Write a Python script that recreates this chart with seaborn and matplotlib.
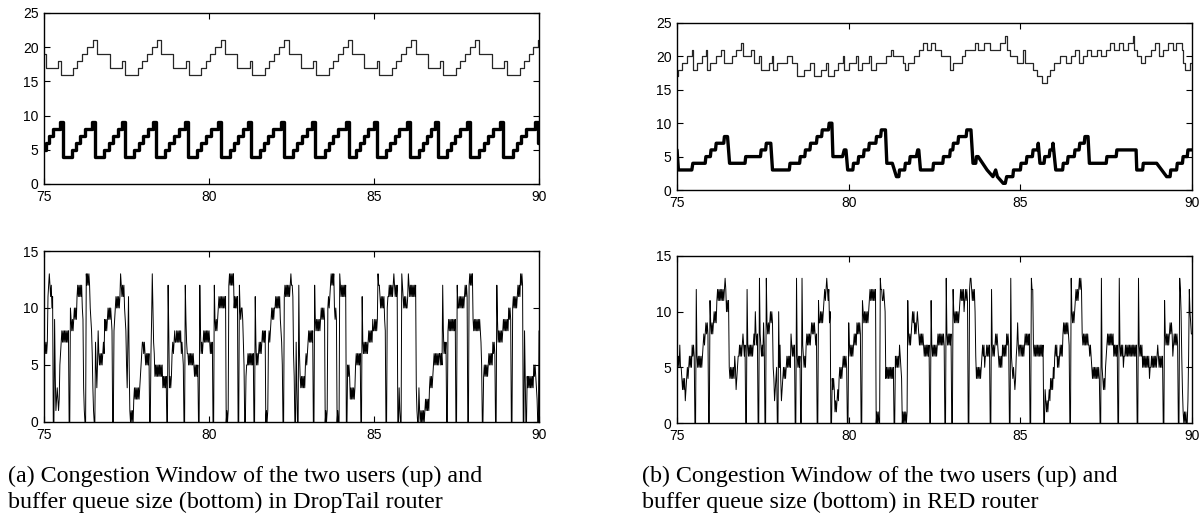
import matplotlib
matplotlib.use("Agg")
import matplotlib.pyplot as plt
import numpy as np
import seaborn as sns

# ---------------- data ----------------
# (a) DropTail: congestion window of user 1 (thin) -- breakpoints, value holds until next time
dt_cw1_t = [75.00, 75.06, 75.42, 75.50, 75.88, 76.01, 76.15, 76.31, 76.49,
            76.62, 76.99, 77.37, 77.45, 77.84, 77.97, 78.11, 78.26, 78.42,
            78.55, 78.92, 79.30, 79.38, 79.77, 79.90, 80.04, 80.19, 80.35,
            80.48, 80.85, 81.23, 81.31, 81.70, 81.83, 81.97, 82.12, 82.28,
            82.41, 82.78, 83.16, 83.24, 83.63, 83.76, 83.90, 84.05, 84.20,
            84.33, 84.70, 85.08, 85.16, 85.55, 85.68, 85.82, 85.97, 86.13,
            86.26, 86.63, 87.01, 87.09, 87.48, 87.61, 87.75, 87.90, 88.06,
            88.19, 88.56, 88.94, 89.02, 89.41, 89.54, 89.68, 89.83, 89.97, 90.00]
dt_cw1_v = [19, 17, 18, 16, 17, 18, 19, 20, 21,
            19, 17, 18, 16, 17, 18, 19, 20, 21,
            19, 17, 18, 16, 17, 18, 19, 20, 21,
            19, 17, 18, 16, 17, 18, 19, 20, 21,
            19, 17, 18, 16, 17, 18, 19, 20, 21,
            19, 17, 18, 16, 17, 18, 19, 20, 21,
            19, 17, 18, 16, 17, 18, 19, 20, 21,
            19, 17, 18, 16, 17, 18, 19, 20, 21, 21]

# (a) DropTail: congestion window of user 2 (thick)
dt_cw2_t = [75.00, 75.06, 75.16, 75.28, 75.47,
            75.56, 75.84, 75.97, 76.10, 76.25, 76.46,
            76.55, 76.83, 76.96, 77.09, 77.24, 77.37,
            77.46, 77.74, 77.87, 78.00, 78.15, 78.30,
            78.39, 78.67, 78.80, 78.93, 79.08, 79.27,
            79.36, 79.64, 79.77, 79.90, 80.05, 80.26,
            80.35, 80.63, 80.76, 80.89, 81.04, 81.17,
            81.26, 81.54, 81.67, 81.80, 81.95, 82.18,
            82.27, 82.55, 82.68, 82.81, 82.96, 83.13,
            83.22, 83.50, 83.63, 83.76, 83.91, 84.14,
            84.23, 84.45, 84.57, 84.69, 84.83, 84.99,
            85.08, 85.36, 85.49, 85.62, 85.77, 86.01,
            86.10, 86.35, 86.47, 86.59, 86.72, 86.86,
            86.95, 87.20, 87.33, 87.46, 87.61, 87.82,
            87.91, 88.19, 88.32, 88.45, 88.60, 88.83,
            88.92, 89.20, 89.33, 89.46, 89.61, 89.88,
            89.97, 90.00]
dt_cw2_v = [5, 6, 7, 8, 9] + [4, 5, 6, 7, 8, 9] * 15 + [6, 6]

# (a) DropTail: buffer queue size, 50 samples per second from 75 s to 90 s
dt_queue = [
    6, 7, 6, 7, 6, 7, 11, 12, 13, 12, 11, 12, 10, 11, 0, 0, 9, 4, 1, 2, 3, 2, 1, 2, 5,
    6, 7, 8, 7, 8, 7, 8, 7, 8, 7, 8, 7, 8, 0, 0, 10, 9, 8, 9, 8, 9, 10, 9, 10, 9,          # 75
    11, 12, 11, 12, 11, 12, 11, 12, 10, 9, 3, 1, 0, 0, 13, 12, 13, 12, 13, 12, 10, 9, 8, 6, 3,
    1, 0, 0, 7, 5, 3, 5, 8, 6, 5, 6, 5, 6, 5, 6, 7, 6, 9, 8, 9, 8, 9, 10, 9, 10,           # 76
    9, 10, 9, 8, 0, 0, 8, 9, 10, 11, 10, 11, 10, 11, 10, 11, 13, 12, 11, 12, 11, 12, 10, 9, 8,
    5, 3, 7, 11, 5, 1, 0, 1, 0, 1, 0, 2, 3, 2, 3, 2, 3, 2, 3, 2, 3, 4, 5, 6, 7,            # 77
    7, 6, 7, 6, 5, 6, 5, 6, 5, 6, 0, 0, 6, 9, 13, 10, 7, 6, 4, 5, 4, 5, 4, 5, 4,
    5, 4, 5, 4, 5, 3, 4, 3, 4, 3, 4, 0, 0, 12, 8, 3, 4, 3, 4, 6, 7, 6, 7, 8, 7,            # 78
    7, 8, 7, 8, 7, 8, 7, 8, 6, 7, 6, 5, 0, 0, 12, 9, 7, 6, 6, 5, 6, 5, 6, 5, 6,
    5, 6, 5, 4, 5, 4, 5, 4, 5, 0, 0, 12, 8, 6, 7, 6, 7, 8, 7, 8, 7, 8, 7, 8, 7,            # 79
    8, 7, 6, 7, 6, 7, 0, 0, 12, 9, 8, 9, 8, 9, 10, 11, 10, 11, 10, 11, 10, 11, 10, 11, 10,
    11, 0, 1, 0, 1, 12, 13, 12, 13, 12, 13, 12, 13, 10, 11, 10, 11, 10, 11, 0, 0, 12, 10, 9, 10,  # 80
    10, 9, 7, 5, 0, 0, 4, 5, 5, 6, 5, 6, 5, 6, 5, 6, 5, 6, 0, 0, 11, 7, 5, 6, 5,
    6, 7, 6, 7, 6, 7, 8, 7, 8, 7, 8, 0, 1, 0, 1, 7, 8, 7, 8, 9, 10, 9, 10, 9, 10,          # 81
    10, 11, 10, 11, 10, 11, 10, 11, 9, 8, 7, 5, 0, 0, 11, 12, 11, 12, 11, 12, 11, 12, 11, 12, 13,
    12, 12, 11, 6, 4, 0, 0, 7, 3, 0, 0, 12, 6, 4, 3, 4, 3, 4, 3, 4, 3, 5, 6, 5, 6,         # 82
    7, 8, 7, 8, 7, 8, 7, 8, 0, 0, 12, 9, 8, 9, 8, 9, 8, 9, 8, 9, 10, 9, 10, 9, 10,
    9, 0, 1, 0, 1, 10, 11, 10, 11, 12, 13, 12, 13, 12, 13, 10, 9, 10, 9, 0, 1, 0, 0, 13, 12,  # 83
    11, 12, 11, 12, 11, 12, 11, 12, 0, 0, 5, 4, 5, 4, 2, 3, 2, 3, 2, 3, 2, 3, 5, 6, 5,
    6, 5, 6, 5, 6, 0, 0, 11, 7, 6, 7, 6, 7, 6, 7, 6, 7, 8, 7, 8, 7, 8, 7, 9, 8,            # 84
    8, 9, 8, 9, 8, 9, 13, 12, 12, 11, 10, 11, 10, 11, 10, 11, 9, 8, 0, 0, 10, 11, 11, 12, 11,
    12, 11, 12, 11, 12, 13, 12, 11, 12, 11, 12, 0, 0, 3, 1, 0, 0, 13, 12, 11, 10, 11, 10, 11, 10,  # 85
    10, 11, 13, 12, 11, 12, 11, 12, 11, 12, 11, 12, 11, 12, 3, 1, 0, 0, 3, 1, 0, 1, 0, 1, 0,
    1, 0, 1, 2, 1, 2, 1, 2, 1, 3, 4, 3, 4, 3, 4, 5, 6, 5, 6, 5, 6, 5, 6, 5, 6,             # 86
    6, 5, 6, 5, 12, 8, 6, 7, 6, 7, 0, 0, 8, 9, 8, 9, 8, 9, 8, 9, 8, 9, 8, 9, 0,
    0, 12, 10, 10, 11, 10, 11, 10, 11, 10, 11, 10, 11, 12, 11, 12, 11, 0, 0, 12, 13, 12, 13, 12, 13,  # 87
    9, 8, 9, 8, 9, 8, 9, 8, 9, 8, 9, 8, 7, 5, 0, 0, 4, 5, 4, 5, 4, 5, 4, 5, 6,
    5, 6, 5, 6, 5, 7, 6, 7, 6, 0, 0, 12, 9, 7, 8, 7, 8, 7, 8, 7, 8, 9, 8, 9, 8,            # 88
    9, 8, 9, 8, 10, 9, 10, 9, 0, 0, 10, 11, 10, 11, 10, 11, 10, 11, 12, 11, 12, 11, 13, 12, 13,
    12, 0, 0, 8, 4, 0, 0, 4, 3, 4, 3, 4, 3, 4, 3, 4, 3, 5, 4, 5, 4, 3, 2, 0, 0,            # 89
    8]

# (b) RED: congestion window of user 1 (thin) -- breakpoints
red_cw1_t = [75.00, 75.02, 75.14, 75.30, 75.43, 75.47, 75.57, 75.72, 75.83, 75.87,
             75.97, 76.12, 76.29, 76.37, 76.59, 76.72, 76.87, 76.91, 77.15, 77.24,
             77.38, 77.44, 77.67, 77.76, 77.80, 77.92, 78.20, 78.34, 78.48, 78.71,
             78.87, 78.99, 79.18, 79.33, 79.39, 79.56, 79.70, 79.82, 79.86, 80.02,
             80.21, 80.26, 80.40, 80.60, 80.65, 80.79, 81.08, 81.23, 81.28, 81.59,
             81.64, 81.73, 81.90, 82.05, 82.17, 82.27, 82.41, 82.52, 82.70, 82.95,
             83.03, 83.29, 83.38, 83.68, 83.78, 83.95, 84.11, 84.40, 84.55, 84.60,
             84.69, 84.89, 85.08, 85.13, 85.37, 85.47, 85.62, 85.77, 85.86, 85.99,
             86.14, 86.32, 86.46, 86.59, 86.70, 86.82, 86.95, 87.06, 87.24, 87.36,
             87.50, 87.62, 87.72, 87.87, 87.98, 88.13, 88.27, 88.30, 88.39, 88.52,
             88.64, 88.79, 88.91, 89.03, 89.16, 89.30, 89.44, 89.54, 89.70, 89.75,
             89.79, 89.95, 90.00]
red_cw1_v = [17, 18, 19, 20, 21, 18, 19, 20, 21, 18,
             19, 20, 21, 19, 20, 21, 22, 20, 21, 19,
             20, 18, 19, 20, 18, 19, 20, 19, 17, 18,
             19, 17, 18, 19, 17, 18, 19, 20, 18, 19,
             20, 18, 19, 20, 18, 19, 20, 21, 20, 19,
             18, 19, 20, 21, 22, 21, 22, 21, 20, 18,
             19, 20, 21, 22, 21, 22, 21, 22, 23, 21,
             20, 19, 21, 19, 18, 17, 16, 17, 18, 19,
             20, 19, 20, 21, 19, 20, 21, 20, 21, 20,
             21, 22, 21, 22, 21, 22, 23, 21, 20, 19,
             20, 21, 22, 20, 21, 22, 21, 22, 21, 19,
             18, 19, 19]

# (b) RED: congestion window of user 2 (thick) -- corner points
red_cw2_t = [75.00, 75.04, 75.43, 75.46, 75.82, 75.84, 75.97, 75.99, 76.12, 76.14,
             76.36, 76.38, 76.47, 76.53, 76.98, 77.00, 77.43, 77.45, 77.58, 77.60,
             77.73, 77.78, 78.27, 78.29, 78.57, 78.59, 78.72, 78.74, 78.87, 78.89,
             79.06, 79.08, 79.21, 79.23, 79.41, 79.43, 79.51, 79.54, 79.82, 79.87,
             79.92, 79.97, 80.12, 80.14, 80.27, 80.29, 80.43, 80.45, 80.58, 80.60,
             80.79, 80.81, 80.93, 80.95, 81.07, 81.11, 81.27, 81.39, 81.46, 81.48,
             81.63, 81.65, 81.77, 81.79, 81.97, 82.01, 82.04, 82.09, 82.45, 82.47,
             82.74, 82.76, 82.94, 82.96, 83.03, 83.05, 83.18, 83.20, 83.42, 83.44,
             83.56, 83.62, 83.70, 83.72, 83.77, 84.03, 84.20, 84.28, 84.33, 84.50,
             84.56, 84.60, 84.78, 84.80, 85.00, 85.02, 85.17, 85.19, 85.35, 85.37,
             85.50, 85.52, 85.57, 85.69, 85.71, 85.84, 85.86, 85.93, 85.95, 86.03,
             86.23, 86.25, 86.37, 86.39, 86.57, 86.59, 86.71, 86.73, 86.86, 86.88,
             86.97, 87.01, 87.50, 87.52, 87.79, 87.81, 88.37, 88.39, 88.56, 88.58,
             88.97, 89.26, 89.36, 89.38, 89.55, 89.57, 89.72, 89.74, 89.86, 89.88,
             90.00]
red_cw2_v = [6, 3, 3, 4, 4, 5, 5, 6, 6, 7,
             7, 8, 8, 4, 4, 5, 5, 6, 6, 7,
             7, 3, 3, 4, 4, 5, 5, 6, 6, 7,
             7, 8, 8, 9, 9, 10, 10, 5, 5, 6,
             6, 3, 3, 4, 4, 5, 5, 6, 6, 7,
             7, 8, 8, 9, 9, 4, 4, 2, 2, 3,
             3, 4, 4, 5, 5, 6, 6, 3, 3, 4,
             4, 5, 5, 6, 6, 7, 7, 8, 8, 9,
             9, 4, 4, 5, 5, 3, 2, 3, 2, 1,
             1, 2, 2, 3, 3, 4, 4, 5, 5, 6,
             6, 7, 4, 4, 5, 5, 6, 6, 7, 3,
             3, 4, 4, 5, 5, 6, 6, 7, 7, 8,
             8, 4, 4, 5, 5, 6, 6, 3, 3, 4,
             4, 2, 2, 3, 3, 4, 4, 5, 5, 6,
             6]

# (b) RED: buffer queue size, 50 samples per second from 75 s to 90 s
red_queue = [
    6, 5, 6, 5, 7, 5, 5, 4, 3, 4, 3, 4, 2, 3, 4, 5, 4, 5, 6, 5, 6, 5, 7, 6, 7,
    6, 0, 0, 12, 6, 5, 6, 5, 6, 5, 6, 5, 6, 7, 8, 7, 8, 9, 8, 9, 8, 0, 0, 11, 9,           # 75
    8, 9, 8, 9, 10, 9, 10, 9, 11, 12, 11, 12, 11, 12, 11, 12, 11, 12, 11, 12, 13, 12, 10, 11, 10,
    11, 5, 4, 5, 4, 5, 4, 5, 4, 6, 5, 3, 4, 5, 6, 6, 7, 6, 7, 6, 7, 8, 7, 6, 7,            # 76
    0, 0, 12, 7, 6, 7, 6, 7, 6, 7, 6, 7, 8, 7, 10, 8, 7, 8, 0, 0, 13, 8, 7, 6, 7,
    6, 9, 7, 0, 0, 13, 9, 8, 9, 8, 9, 10, 9, 10, 9, 5, 4, 2, 3, 4, 5, 0, 0, 10, 5,         # 77
    7, 4, 2, 3, 4, 5, 4, 5, 4, 5, 6, 5, 6, 5, 6, 5, 8, 7, 6, 7, 6, 7, 0, 0, 13,
    6, 5, 6, 5, 6, 0, 0, 13, 7, 6, 5, 6, 5, 7, 8, 7, 8, 7, 8, 7, 8, 9, 8, 9, 8,            # 78
    9, 8, 7, 8, 0, 0, 11, 9, 9, 10, 9, 10, 9, 10, 11, 12, 11, 12, 13, 12, 11, 12, 9, 10, 0,
    0, 4, 3, 4, 3, 1, 2, 1, 2, 3, 2, 4, 5, 4, 5, 4, 5, 6, 5, 6, 5, 6, 5, 0, 0,             # 79
    9, 7, 6, 7, 6, 7, 6, 7, 8, 7, 8, 7, 9, 8, 9, 8, 9, 8, 0, 0, 11, 10, 9, 10, 9,
    10, 9, 10, 9, 10, 11, 12, 11, 12, 11, 12, 11, 12, 11, 12, 0, 1, 0, 1, 0, 0, 13, 12, 12, 11,  # 80
    11, 12, 11, 10, 4, 5, 4, 5, 4, 5, 4, 5, 4, 5, 4, 5, 0, 0, 6, 5, 6, 5, 6, 5, 7,
    6, 5, 4, 0, 1, 0, 1, 0, 1, 0, 1, 11, 8, 7, 8, 7, 8, 9, 10, 9, 10, 8, 9, 8, 9,          # 81
    10, 9, 8, 7, 8, 7, 8, 7, 8, 7, 6, 7, 6, 7, 6, 7, 6, 7, 0, 0, 11, 7, 6, 7, 6,
    7, 6, 7, 6, 7, 8, 7, 8, 7, 8, 7, 8, 7, 8, 7, 0, 0, 13, 8, 7, 8, 7, 8, 7, 8,            # 82
    0, 0, 12, 10, 9, 10, 9, 10, 9, 10, 9, 10, 11, 12, 11, 12, 11, 12, 10, 11, 12, 11, 12, 11, 0,
    0, 12, 13, 13, 12, 11, 12, 11, 12, 10, 6, 4, 5, 4, 5, 4, 5, 4, 5, 6, 7, 6, 7, 5, 6,    # 83
    6, 7, 6, 7, 6, 7, 0, 0, 12, 7, 6, 7, 6, 7, 8, 7, 8, 7, 6, 5, 6, 5, 6, 5, 7,
    6, 7, 6, 7, 6, 8, 7, 8, 7, 0, 0, 13, 6, 5, 4, 5, 4, 3, 4, 6, 7, 9, 7, 6, 7,            # 84
    7, 6, 7, 6, 7, 6, 7, 8, 7, 8, 7, 8, 7, 8, 0, 0, 13, 12, 12, 7, 6, 7, 6, 7, 6,
    7, 6, 7, 6, 7, 6, 7, 6, 7, 0, 0, 3, 2, 1, 2, 1, 2, 3, 2, 4, 3, 4, 3, 5, 4,             # 85
    6, 7, 6, 7, 5, 6, 5, 6, 7, 6, 7, 6, 8, 9, 8, 9, 8, 9, 8, 9, 8, 7, 0, 0, 13,
    10, 9, 10, 9, 10, 11, 12, 11, 12, 11, 12, 13, 12, 13, 12, 8, 7, 8, 7, 8, 7, 8, 7, 8, 7,  # 86
    7, 6, 7, 6, 5, 4, 5, 4, 5, 4, 5, 4, 5, 4, 5, 4, 0, 0, 13, 5, 4, 3, 4, 3, 5,
    6, 7, 8, 7, 8, 7, 8, 7, 8, 7, 8, 6, 7, 6, 7, 6, 7, 0, 0, 13, 7, 6, 7, 6, 7,            # 87
    5, 6, 6, 7, 6, 7, 6, 7, 6, 7, 6, 7, 6, 7, 6, 7, 6, 7, 6, 7, 0, 0, 13, 7, 6,
    7, 6, 7, 5, 6, 5, 6, 5, 6, 5, 6, 5, 6, 4, 5, 5, 6, 5, 6, 5, 6, 5, 6, 5, 6,             # 88
    7, 6, 5, 6, 5, 6, 5, 6, 0, 0, 11, 8, 7, 8, 7, 8, 7, 8, 9, 8, 9, 8, 6, 7, 8,
    7, 8, 7, 8, 7, 0, 0, 13, 12, 10, 6, 3, 1, 0, 1, 0, 1, 0, 0, 2, 6, 12, 10, 9, 8,        # 89
    8]

x_ticks = [75, 80, 85, 90]
cw_ticks = [0, 5, 10, 15, 20, 25]
queue_ticks = [0, 5, 10, 15]

captions = {
    "a": ["(a) Congestion Window of the two users (up) and",
          "buffer queue size (bottom) in DropTail router"],
    "b": ["(b) Congestion Window of the two users (up) and",
          "buffer queue size (bottom) in RED router"],
}

# ---------------- plotting ----------------
sns.set_style("ticks")
plt.rcParams["font.family"] = ["Liberation Sans", "DejaVu Sans"]

fig = plt.figure(figsize=(12.03, 5.2), dpi=100)
ax_tl = fig.add_axes([0.0366, 0.6462, 0.4115, 0.3288])
ax_bl = fig.add_axes([0.0366, 0.1885, 0.4115, 0.3288])
ax_tr = fig.add_axes([0.5628, 0.6346, 0.4281, 0.3212])
ax_br = fig.add_axes([0.5628, 0.1865, 0.4281, 0.3212])


def line(ax, t, v, lw, color="black", steps=False):
    sns.lineplot(x=t, y=v, ax=ax, estimator=None, sort=False, color=color,
                 linewidth=lw, drawstyle="steps-post" if steps else "default")


line(ax_tl, dt_cw1_t, dt_cw1_v, 0.9, "#262626", steps=True)
line(ax_tl, dt_cw2_t, dt_cw2_v, 2.4, steps=True)
line(ax_bl, np.linspace(75, 90, len(dt_queue)), dt_queue, 0.7)

line(ax_tr, red_cw1_t, red_cw1_v, 0.9, "#262626", steps=True)
line(ax_tr, red_cw2_t, red_cw2_v, 2.4)
line(ax_br, np.linspace(75, 90, len(red_queue)), red_queue, 0.7)

for ax, yt in [(ax_tl, cw_ticks), (ax_tr, cw_ticks), (ax_bl, queue_ticks), (ax_br, queue_ticks)]:
    ax.set_xlim(75, 90)
    ax.set_ylim(yt[0], yt[-1])
    ax.set_xticks(x_ticks)
    ax.set_yticks(yt)
    ax.set_xlabel("")
    ax.set_ylabel("")
    ax.tick_params(direction="in", top=True, right=True, length=4, width=0.8,
                   labelsize=10, pad=4, colors="black")
    for s in ax.spines.values():
        s.set_visible(True)
        s.set_linewidth(1.0)
        s.set_color("black")

for key, x0 in [("a", 8 / 1203), ("b", 642 / 1203)]:
    for i, txt in enumerate(captions[key]):
        fig.text(x0, 1 - (482 + 26 * i) / 520, txt, family="Liberation Serif",
                 fontsize=17.3, va="baseline", ha="left", color="black")

fig.savefig("out.png", dpi=100)
